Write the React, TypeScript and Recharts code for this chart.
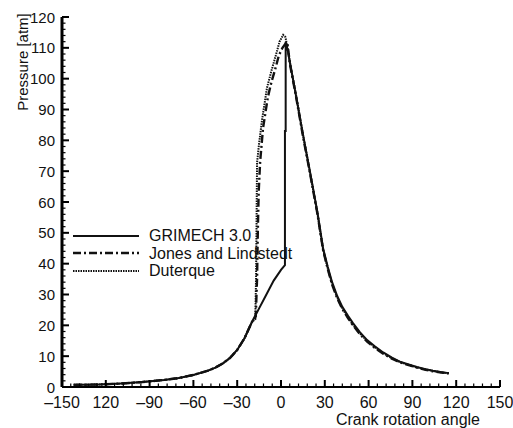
import React from 'react';
import { Legend, Line, LineChart, XAxis, YAxis } from 'recharts';

// Crank angle (deg) / pressure (atm)
const grimechAngle = [-142, -125, -110, -95, -80, -70, -60, -50, -45, -40, -35, -30, -25, -20, -15, -10, -5, 0, 2.7, 2.7, 3.2, 3.2, 4.5, 6.2, 10, 15, 20, 25, 28.8, 32, 35, 38.5, 42, 46, 49.3, 54, 59, 64, 70, 76, 82, 88, 93, 99, 104, 110, 115];
const grimechP = [0.7, 0.8, 1.1, 1.6, 2.3, 2.9, 3.9, 5.3, 6.3, 7.6, 9.4, 12, 15.8, 21, 25.5, 30, 34.5, 38, 39.5, 83, 83, 112, 109.5, 105, 95.2, 82, 69.4, 56.5, 45, 39, 34, 29.5, 26, 23, 20.7, 17.8, 15.2, 13.3, 11.2, 9.5, 8.1, 7.2, 6.5, 5.8, 5.3, 4.8, 4.5];

const jonesAngle = [-142, -125, -110, -95, -80, -70, -60, -50, -45, -40, -35, -30, -25, -20, -17.3, -16.4, -15.9, -15.3, -14.3, -12.3, -9, -6.5, -4, -1.5, 1, 3, 4.3, 6.2, 10, 15, 20, 25, 28.8, 32, 35, 38.5, 42, 46, 49.3, 54, 59, 64, 70, 76, 82, 88, 93, 99, 104, 110, 115];
const jonesP = [0.7, 0.8, 1.1, 1.6, 2.3, 2.9, 3.9, 5.3, 6.3, 7.6, 9.4, 12, 15.8, 21, 22.8, 35, 50, 63, 73, 84, 94, 99, 103, 107.5, 110, 111.3, 111.8, 104.5, 95, 81.5, 69, 56, 44.5, 38.3, 33.2, 28.8, 25.3, 22.3, 20, 17.2, 14.7, 12.8, 10.8, 9.2, 7.9, 7, 6.3, 5.6, 5.1, 4.7, 4.4];

const duterqueAngle = [-142, -125, -110, -95, -80, -70, -60, -50, -45, -40, -35, -30, -25, -20, -17.6, -17.1, -16.8, -16.6, -16.4, -15, -13, -9.6, -6.4, -3, -1, 1.5, 3, 4.5, 6.2, 10, 15, 20, 25, 28.8, 32, 35, 38.5, 42, 46, 49.3, 54, 59, 64, 70, 76, 82, 88, 93, 99, 104, 110, 115];
const duterqueP = [0.7, 0.8, 1.1, 1.6, 2.3, 2.9, 3.9, 5.3, 6.3, 7.6, 9.4, 12, 15.8, 21, 22, 35, 50, 62, 72.7, 79, 86.6, 97, 102.8, 108.5, 112, 114.2, 113.5, 110, 105, 95.5, 82, 69.3, 56.2, 44.6, 38.5, 33.4, 29, 25.5, 22.5, 20.2, 17.4, 14.9, 13, 11, 9.3, 8, 7.1, 6.4, 5.7, 5.2, 4.7, 4.4];

const xMajor = [-150, -120, -90, -60, -30, 0, 30, 60, 90, 120, 150];
const xLabels = ['\u2013150', '120', '\u201390', '\u201360', '\u201330', '0', '30', '60', '90', '120', '150'];
const yMajor = [0, 10, 20, 30, 40, 50, 60, 70, 80, 90, 100, 110, 120];

const seriesNames = ['GRIMECH 3.0', 'Jones and Lindstedt', 'Duterque'];

const xMinorStep = 6;
const yMinorStep = 2;
const xTicks: number[] = [];
for (let v = -150; v <= 150; v += xMinorStep) xTicks.push(v);
const yTicks: number[] = [];
for (let v = 0; v <= 120; v += yMinorStep) yTicks.push(v);

const toPoints = (a: number[], p: number[]) => a.map((angle, i) => ({ angle, p: p[i] }));
const grimech = toPoints(grimechAngle, grimechP);
const jones = toPoints(jonesAngle, jonesP);
const duterque = toPoints(duterqueAngle, duterqueP);

const FONT = "'Liberation Sans', Arial, Helvetica, sans-serif";

const styles = [
  { stroke: '#111', width: 2, dash: undefined as string | undefined },
  { stroke: '#111', width: 2.4, dash: '8 3 2 3' },
  { stroke: '#111', width: 2, dash: '1.5 1' },
];

const BottomTick = (props: any) => {
  const { x, y, payload } = props;
  const i = xMajor.indexOf(payload.value);
  const major = i >= 0;
  return (
    <g>
      <line x1={x} x2={x} y1={y} y2={y - (major ? 7 : 3.5)} stroke="#000" strokeWidth={major ? 2 : 1.2} />
      {major && (
        <text x={x} y={y + 21} textAnchor="middle" fontSize={16} fontFamily={FONT} fill="#111">
          {xLabels[i]}
        </text>
      )}
    </g>
  );
};

const TopTick = (props: any) => {
  const { x, y, payload } = props;
  const major = xMajor.includes(payload.value);
  return <line x1={x} x2={x} y1={y} y2={y + (major ? 7 : 3.5)} stroke="#000" strokeWidth={major ? 2 : 1.2} />;
};

const LeftTick = (props: any) => {
  const { x, y, payload } = props;
  const major = yMajor.includes(payload.value);
  return (
    <g>
      <line x1={x} x2={x + (major ? 7 : 3.5)} y1={y} y2={y} stroke="#000" strokeWidth={major ? 2 : 1.2} />
      {major && (
        <text x={x - 7} y={y + 5.5} textAnchor="end" fontSize={15} fontFamily={FONT} fill="#111">
          {payload.value}
        </text>
      )}
    </g>
  );
};

const RightTick = (props: any) => {
  const { x, y, payload } = props;
  const major = yMajor.includes(payload.value);
  return <line x1={x} x2={x - (major ? 7 : 3.5)} y1={y} y2={y} stroke="#000" strokeWidth={major ? 2 : 1.2} />;
};

const LegendBox = () => (
  <div style={{ fontFamily: FONT, fontSize: 16, color: '#111', lineHeight: '17.5px' }}>
    {seriesNames.map((name, i) => (
      <div key={name} style={{ display: 'flex', alignItems: 'center', height: 17.5 }}>
        <svg width={66} height={10} style={{ marginRight: 10 }}>
          <line x1={0} x2={66} y1={5} y2={5} stroke={styles[i].stroke} strokeWidth={styles[i].width} strokeDasharray={styles[i].dash} />
        </svg>
        <span>{name}</span>
      </div>
    ))}
  </div>
);

export default function App() {
  return (
    <div style={{ position: 'absolute', left: 0, top: 0, width: 513, height: 428, background: '#fff' }}>
      <LineChart width={513} height={428} margin={{ top: 17, right: 13, bottom: 0, left: 0 }}>
        <XAxis
          xAxisId="b"
          dataKey="angle"
          type="number"
          domain={[-150, 150]}
          allowDataOverflow
          ticks={xTicks}
          interval={0}
          tickSize={0}
          tickMargin={0}
          tick={<BottomTick />}
          height={41}
          axisLine={{ stroke: '#000', strokeWidth: 2 }}
          label={(p: any) => {
            const vb = p.viewBox || { x: 62, y: 387, width: 438 };
            return (
              <text x={vb.x + vb.width - 20} y={vb.y + 38} textAnchor="end" fontSize={16} fontFamily={FONT} fill="#111">
                Crank rotation angle
              </text>
            );
          }}
        />
        <XAxis
          xAxisId="t"
          orientation="top"
          type="number"
          domain={[-150, 150]}
          allowDataOverflow
          ticks={xTicks}
          interval={0}
          tickSize={0}
          tickMargin={0}
          tick={<TopTick />}
          height={0}
          axisLine={{ stroke: '#000', strokeWidth: 1.5 }}
        />
        <YAxis
          yAxisId="l"
          type="number"
          domain={[0, 120]}
          allowDataOverflow
          ticks={yTicks}
          interval={0}
          tickSize={0}
          tickMargin={0}
          tick={<LeftTick />}
          width={62}
          axisLine={{ stroke: '#000', strokeWidth: 3 }}
          label={(p: any) => {
            const vb = p.viewBox || { x: 0, y: 17 };
            const cx = vb.x + 22;
            const cy = vb.y + 45;
            return (
              <text x={cx} y={cy} transform={`rotate(-90 ${cx} ${cy})`} textAnchor="middle" dominantBaseline="central" fontSize={15} fontFamily={FONT} fill="#111">
                Pressure [atm]
              </text>
            );
          }}
        />
        <YAxis
          yAxisId="r"
          orientation="right"
          type="number"
          domain={[0, 120]}
          allowDataOverflow
          ticks={yTicks}
          interval={0}
          tickSize={0}
          tickMargin={0}
          tick={<RightTick />}
          width={0}
          axisLine={{ stroke: '#000', strokeWidth: 3 }}
        />
        <Legend
          layout="vertical"
          align="center"
          verticalAlign="middle"
          content={<LegendBox />}
          wrapperStyle={{ left: 73, top: 227, width: 220, height: 54 }}
        />
        <Line xAxisId="b" yAxisId="l" data={duterque} dataKey="p" name={seriesNames[2]} type="linear" stroke={styles[2].stroke} strokeWidth={styles[2].width} strokeDasharray={styles[2].dash} dot={false} isAnimationActive={false} />
        <Line xAxisId="b" yAxisId="l" data={jones} dataKey="p" name={seriesNames[1]} type="linear" stroke={styles[1].stroke} strokeWidth={styles[1].width} strokeDasharray={styles[1].dash} dot={false} isAnimationActive={false} />
        <Line xAxisId="b" yAxisId="l" data={grimech} dataKey="p" name={seriesNames[0]} type="linear" stroke={styles[0].stroke} strokeWidth={styles[0].width} dot={false} isAnimationActive={false} />
      </LineChart>
    </div>
  );
}
